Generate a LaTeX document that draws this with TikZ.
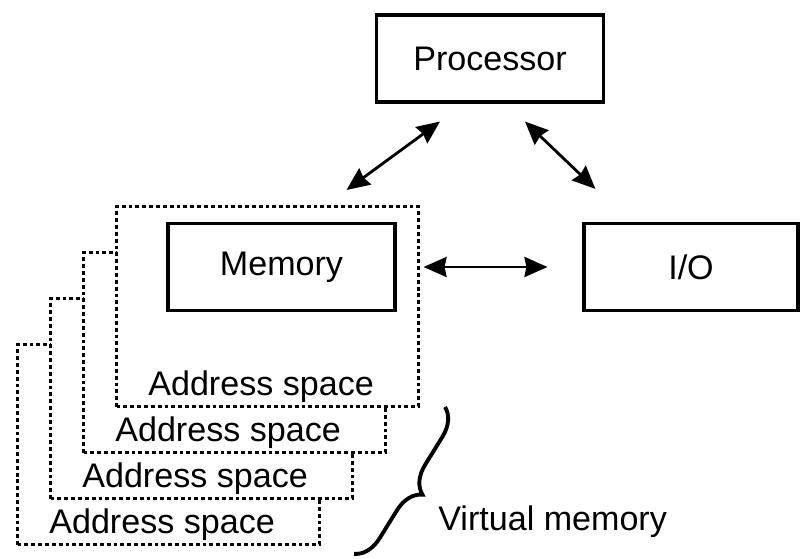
\documentclass[tikz,border=0pt]{standalone}
\usepackage{fontspec}
\setmainfont{Liberation Sans}
\usetikzlibrary{arrows.meta,decorations.pathreplacing,positioning}

\begin{document}
\begin{tikzpicture}[x=0.02cm, y=-0.02cm,
  font=\fontsize{19.4}{23}\selectfont,
  box/.style={draw, line width=1.8pt, minimum width=4.54cm, minimum height=1.74cm, inner sep=0pt},
  addr/.style={draw, fill=white, line width=1.8pt, dash pattern=on 2.2pt off 1.7pt,
    minimum width=6.04cm, minimum height=4cm, inner sep=0pt},
  lbl/.style={inner sep=0pt},
  dbl/.style={>={Stealth[length=0.46cm, width=0.4cm, inset=0.04cm]}, <->, line width=1.6pt}]
  \useasboundingbox (0,0) rectangle (800,558);
  \node[box] (proc) at (490,58.5) {Processor};
  \foreach \i in {3,2,1,0}{
    \node[addr, anchor=north west] (as\i) at (115-33*\i, 205+46*\i) {};
    \node[lbl, anchor=base west, xshift=0.66cm, yshift=0.26cm] (al\i) at (as\i.south west) {Address space};
  }
  \node[box] (mem) at (281.5,267) {Memory};
  \node[box, minimum width=4.28cm] (io) at (691,267) {I/O};
  \draw[dbl] ([xshift=-1cm, yshift=-0.36cm]proc.south) -- ([xshift=1.58cm, yshift=0.3cm]as0.north);
  \draw[dbl] ([xshift=0.7cm, yshift=-0.36cm]proc.south) -- ([xshift=0.26cm, yshift=0.66cm]io.north west);
  \draw[dbl, shorten <=0.54cm, shorten >=0.7cm] (mem.east) -- (io.west);
  \coordinate (brtop) at (445,407);
  \coordinate (brbot) at (354,554);
  \draw[decorate, decoration={brace, amplitude=0.54cm}, line width=2.2pt] (brtop) -- (brbot);
  \node[lbl, anchor=west] (vm) at (438,522) {Virtual memory};
\end{tikzpicture}
\end{document}
